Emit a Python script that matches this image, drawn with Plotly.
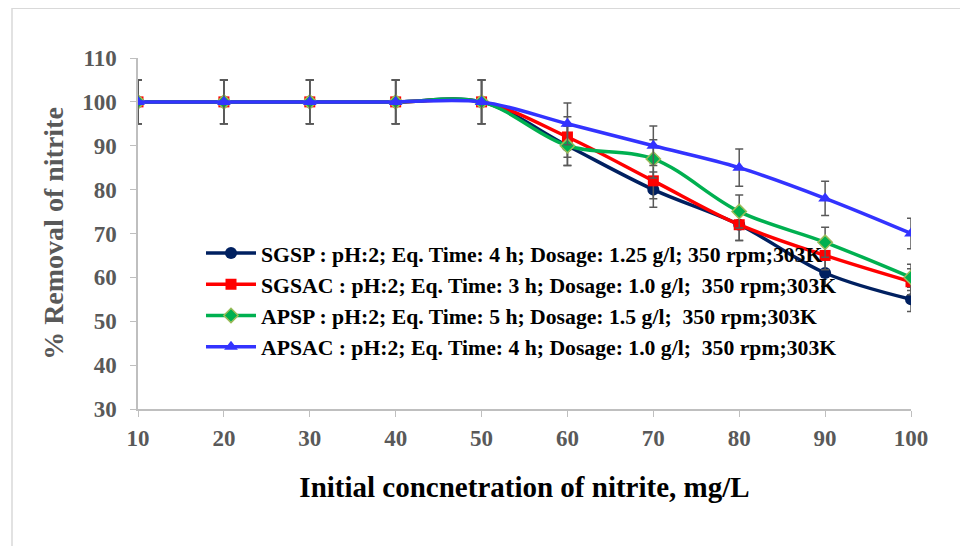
import plotly.graph_objects as go

x_vals = [10, 20, 30, 40, 50, 60, 70, 80, 90, 100]
sgsp = [100, 100, 100, 100, 100, 90, 80, 72, 61, 55]
sgsac = [100, 100, 100, 100, 100, 92, 82, 72, 65, 59]
apsp = [100, 100, 100, 100, 100, 90, 87, 75, 68, 60]
apsac = [100, 100, 100, 100, 100, 95, 90, 85, 78, 70]

names = [
    "SGSP : pH:2; Eq. Time: 4 h; Dosage: 1.25 g/l; 350 rpm;303K",
    "SGSAC : pH:2; Eq. Time: 3 h; Dosage: 1.0 g/l;  350 rpm;303K",
    "APSP : pH:2; Eq. Time: 5 h; Dosage: 1.5 g/l;  350 rpm;303K",
    "APSAC : pH:2; Eq. Time: 4 h; Dosage: 1.0 g/l;  350 rpm;303K",
]

styles = [
    dict(color="#002060", symbol="circle", size=12, mline=dict(width=0)),
    dict(color="#FF0000", symbol="square", size=11, mline=dict(width=0)),
    dict(color="#00B050", symbol="diamond", size=11, mline=dict(width=1.5, color="#9BBB59")),
    dict(color="#3333FF", symbol="triangle-up", size=12, mline=dict(width=0)),
]

fig = go.Figure()
for ys, nm, st in zip([sgsp, sgsac, apsp, apsac], names, styles):
    fig.add_trace(go.Scatter(
        x=x_vals, y=ys, name=nm, mode="lines+markers",
        line=dict(color=st["color"], width=3.5, shape="spline", smoothing=1),
        marker=dict(color=st["color"], symbol=st["symbol"], size=st["size"], line=st["mline"]),
        error_y=dict(type="percent", value=5, color="#595959", thickness=1.5, width=4),
    ))

fig.add_shape(type="rect", xref="paper", yref="paper",
              x0=-0.163, x1=1.071, y0=-0.6, y1=1.142,
              line=dict(color="#D9D9D9", width=1.5), fillcolor="rgba(0,0,0,0)", layer="below")

font_fam = "Liberation Serif"
tickfont = dict(size=23, color="#595959", family=font_fam, weight="bold")
fig.update_layout(
    width=960, height=538,
    margin=dict(l=130, r=57, t=50, b=137),
    paper_bgcolor="white", plot_bgcolor="white",
    font=dict(family=font_fam),
    showlegend=True,
    legend=dict(x=0.0815, y=0.503, xanchor="left", yanchor="top",
                font=dict(size=21.7, color="black", family=font_fam, weight="bold"),
                bgcolor="rgba(0,0,0,0)", tracegroupgap=0, itemwidth=50),
    xaxis=dict(range=[10, 100], tickvals=x_vals, ticks="outside", ticklen=6,
               tickcolor="#BFBFBF", showline=True, linecolor="#BFBFBF", linewidth=1.5,
               showgrid=False, zeroline=False, tickfont=tickfont, ticklabelstandoff=2,
               title=dict(text="Initial concnetration of nitrite, mg/L",
                          font=dict(size=29, color="black", family=font_fam, weight="bold"),
                          standoff=26)),
    yaxis=dict(range=[30, 110], dtick=10, ticks="outside", ticklen=6,
               tickcolor="#BFBFBF", showline=True, linecolor="#BFBFBF", linewidth=1.5,
               showgrid=False, zeroline=False, tickfont=tickfont, ticklabelstandoff=9,
               title=dict(text="% Removal of nitrite",
                          font=dict(size=28, color="#595959", family=font_fam, weight="bold"),
                          standoff=10)),
)

fig.write_html("out.html")
